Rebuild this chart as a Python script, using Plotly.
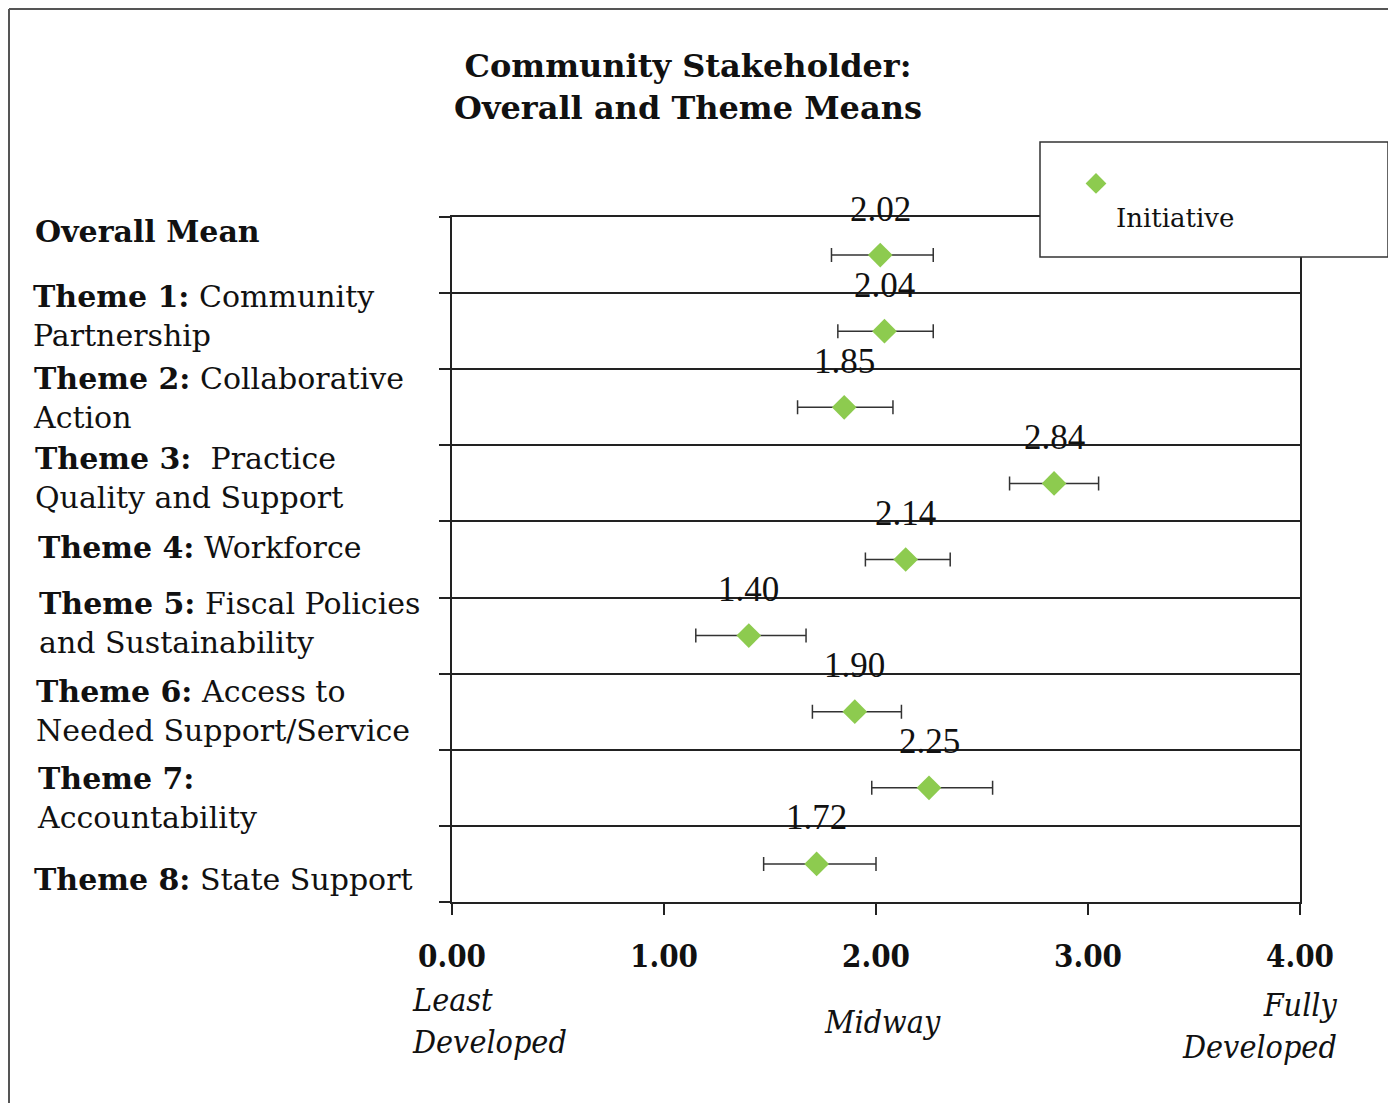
import plotly.graph_objects as go

# ---- data ----
categories = [
    "<b>Overall Mean</b>",
    "<b>Theme 1:</b> Community<br>Partnership",
    "<b>Theme 2:</b> Collaborative<br>Action",
    "<b>Theme 3:</b>  Practice<br>Quality and Support",
    "<b>Theme 4:</b> Workforce",
    "<b>Theme 5:</b> Fiscal Policies<br>and Sustainability",
    "<b>Theme 6:</b> Access to<br>Needed Support/Service",
    "<b>Theme 7:</b><br>Accountability",
    "<b>Theme 8:</b> State Support",
]
means = [2.02, 2.04, 1.85, 2.84, 2.14, 1.40, 1.90, 2.25, 1.72]
lower = [1.79, 1.82, 1.63, 2.63, 1.95, 1.15, 1.70, 1.98, 1.47]
upper = [2.27, 2.27, 2.08, 3.05, 2.35, 1.67, 2.12, 2.55, 2.00]
x_tick_vals = [0, 1, 2, 3, 4]
x_tick_text = ["0.00", "1.00", "2.00", "3.00", "4.00"]
series_name = "Initiative"

# ---- layout helpers (page pixel -> paper) ----
W, H = 1396, 1103
OFF = 8  # page body margin
L, R, T, B = 452, 1300, 217, 902  # plot area in page pixels
def px(x):
    return (x - L) / (R - L)
def py(y):
    return (B - y) / (B - T)

FONT = "DejaVu Serif"
COND = "DejaVu Serif Condensed, DejaVu Serif"
INK = "#222222"

ypos = [i + 0.5 for i in range(len(means))]
err_plus = [u - m for u, m in zip(upper, means)]
err_minus = [m - l for m, l in zip(means, lower)]

fig = go.Figure()
fig.add_trace(go.Scatter(
    x=means, y=ypos, mode="markers", name="&nbsp;<br>" + series_name,
    marker=dict(symbol="diamond", size=19, color="#8DCB4F", line=dict(width=0)),
    error_x=dict(type="data", symmetric=False, array=err_plus, arrayminus=err_minus,
                 color="#333333", thickness=1.5, width=7),
    showlegend=True,
))

annotations = []
# value labels
for i, m in enumerate(means):
    annotations.append(dict(x=m, y=i, xref="x", yref="y", text=f"{m:.2f}",
                            showarrow=False, yshift=8,
                            font=dict(family="Liberation Serif", size=35, color="#111")))

# category labels (left)
label_pos = [(33, 231), (31, 316), (31, 398), (33, 478), (36, 547),
             (37, 623), (34, 711), (35, 798), (32, 879)]
for txt, (lx, ly) in zip(categories, label_pos):
    annotations.append(dict(x=px(lx), y=py(ly), xref="paper", yref="paper", text=txt,
                            showarrow=False, xanchor="left", yanchor="middle", align="left",
                            font=dict(family=FONT, size=30, color="#111")))

# scale descriptors
annotations += [
    dict(x=px(410), y=py(1021), xref="paper", yref="paper", text="<i>Least<br>Developed</i>",
         showarrow=False, xanchor="left", yanchor="middle", align="left",
         font=dict(family=COND, size=32, color="#111")),
    dict(x=px(882), y=py(1022), xref="paper", yref="paper", text="<i>Midway</i>",
         showarrow=False, xanchor="center", yanchor="middle",
         font=dict(family=COND, size=32, color="#111")),
    dict(x=px(1340), y=py(1026), xref="paper", yref="paper", text="<i>Fully<br>Developed</i>",
         showarrow=False, xanchor="right", yanchor="middle", align="right",
         font=dict(family=COND, size=32, color="#111")),
]

shapes = [
    # legend box
    dict(type="rect", xref="paper", yref="paper", x0=px(1040), x1=px(1388), y0=py(257), y1=py(142),
         fillcolor="white", line=dict(color="#333333", width=1.5), layer="above"),
    # outer frame (left and top edges)
    dict(type="line", xref="paper", yref="paper", x0=px(9), x1=px(9), y0=py(9), y1=py(1120),
         line=dict(color="#555555", width=2)),
    dict(type="line", xref="paper", yref="paper", x0=px(9), x1=px(1420), y0=py(9), y1=py(9),
         line=dict(color="#555555", width=2)),
]

fig.update_layout(
    width=W, height=H,
    margin=dict(l=L - OFF, r=W - (R - OFF), t=T - OFF, b=H - (B - OFF), pad=0),
    paper_bgcolor="white", plot_bgcolor="white",
    title=dict(text="<b>Community Stakeholder:<br>Overall and Theme Means</b>",
               x=(688 - OFF) / W, xanchor="center", y=1 - 69 / H, yanchor="middle",
               font=dict(family=FONT, size=32, color="#111")),
    xaxis=dict(range=[0, 4], tickvals=x_tick_vals, ticktext=[f"<b>{t}</b>" for t in x_tick_text],
               showgrid=False, zeroline=False, showline=True, mirror=True,
               linecolor=INK, linewidth=1.5, ticks="outside", ticklen=11, tickwidth=1.5,
               tickcolor=INK, ticklabelstandoff=15,
               tickfont=dict(family=COND, size=31, color="#111")),
    yaxis=dict(range=[len(means), 0], tickvals=list(range(len(means) + 1)),
               showticklabels=False, showgrid=True, gridcolor=INK, gridwidth=1.5,
               zeroline=False, showline=True, mirror=True, linecolor=INK, linewidth=1.5,
               ticks="outside", ticklen=11, tickwidth=1.5, tickcolor=INK),
    legend=dict(x=px(1076), y=py(160), xanchor="left", yanchor="top", valign="top",
                bgcolor="rgba(0,0,0,0)", borderwidth=0,
                font=dict(family=FONT, size=26, color="#111")),
    annotations=annotations,
    shapes=shapes,
)

fig.write_html("out.html")
